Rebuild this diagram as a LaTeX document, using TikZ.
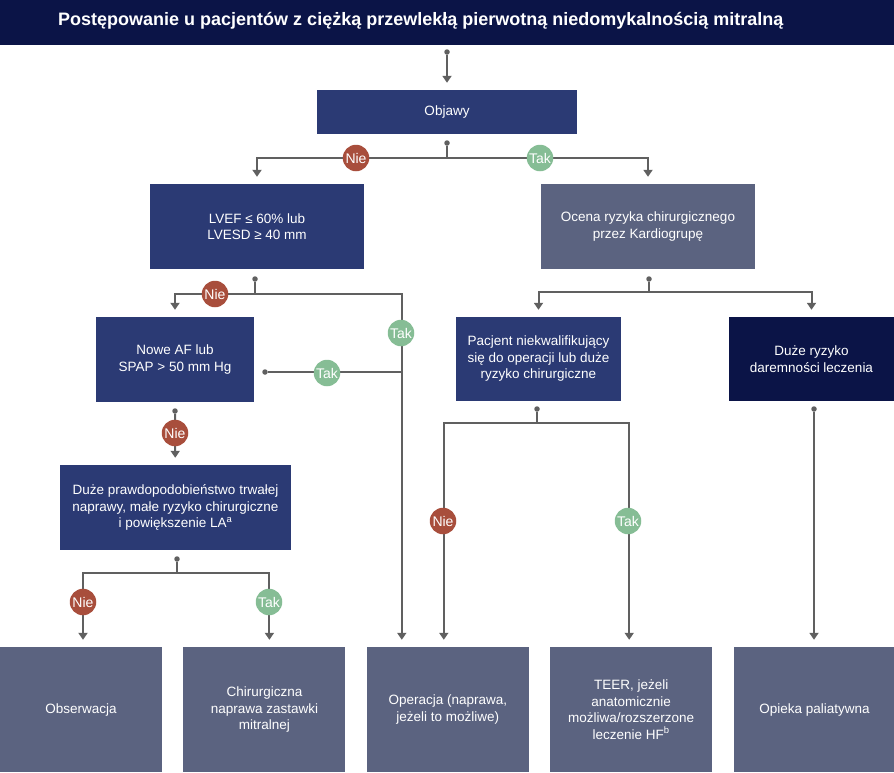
\documentclass[tikz,border=0pt]{standalone}
\usepackage{fontspec}
\setmainfont{Liberation Sans}
\usetikzlibrary{positioning,arrows.meta}
\definecolor{titlenavy}{HTML}{0B1447}
\definecolor{boxblue}{HTML}{2B3A74}
\definecolor{boxgrey}{HTML}{5B6380}
\definecolor{linegrey}{HTML}{606060}
\definecolor{niered}{HTML}{A84E3C}
\definecolor{takgreen}{HTML}{86BD95}

\begin{document}
\begin{tikzpicture}[x=1pt, y=-1pt,
        node distance=21pt,
        box/.style={rectangle, fill=boxblue, text=white, align=center, inner sep=0pt, font=\fontsize{13.5}{16.5}\selectfont},
        greybox/.style={box, fill=boxgrey},
        darkbox/.style={box, fill=titlenavy},
        endbox/.style={greybox, minimum width=162pt, minimum height=125pt},
        dot/.style={circle, fill=linegrey, inner sep=0pt, minimum size=5.5pt},
        line/.style={line width=2pt, draw=linegrey},
        arrow/.style={line, -{Triangle[width=9pt,length=7pt]}, shorten >=7pt},
        nie/.style={circle, fill=niered, text=white, inner sep=0pt, minimum size=26.5pt, font=\fontsize{14}{14}\selectfont},
        tak/.style={nie, fill=takgreen}
    ]
        \useasboundingbox (0,0) rectangle (894,772);
        \fill[titlenavy] (0,0) rectangle (894,45);
        \node[anchor=west, inner sep=0pt, text=white, font=\fontsize{18}{18}\selectfont\bfseries] (title) at (58,21) {Postępowanie u pacjentów z ciężką przewlekłą pierwotną niedomykalnością mitralną};

        \node[box, minimum width=260pt, minimum height=44pt] (objawy) at (447,112) {Objawy};
        \node[box, minimum width=214pt, minimum height=85pt] (lvef) at (257,226.5) {LVEF ≤ 60\% lub\\LVESD ≥ 40 mm};
        \node[greybox, minimum width=214pt, minimum height=85pt] (ocena) at (648,226.5) {Ocena ryzyka chirurgicznego\\przez Kardiogrupę};
        \node[box, minimum width=158pt, minimum height=85pt] (nowe) at (175,359.5) {Nowe AF lub\\SPAP > 50 mm Hg};
        \node[box, minimum width=165pt, minimum height=84pt] (pacjent) at (538.5,359) {Pacjent niekwalifikujący\\się do operacji lub duże\\ryzyko chirurgiczne};
        \node[darkbox, minimum width=165pt, minimum height=84pt] (daremnosc) at (811.5,359) {Duże ryzyko\\daremności leczenia};
        \node[box, minimum width=231pt, minimum height=85pt] (trwala) at (175.5,507.5) {Duże prawdopodobieństwo trwałej\\naprawy, małe ryzyko chirurgiczne\\i powiększenie LA\textsuperscript{a}};

        \node[endbox] (obserwacja) at (81,709.5) {Obserwacja};
        \node[endbox, right=of obserwacja] (chirurgia) {Chirurgiczna\\naprawa zastawki\\mitralnej};
        \node[endbox, right=of chirurgia] (operacja) {Operacja (naprawa,\\jeżeli to możliwe)};
        \node[endbox, right=of operacja] (teer) {TEER, jeżeli\\anatomicznie\\możliwa/rozszerzone\\leczenie HF\textsuperscript{b}};
        \node[endbox, right=of teer] (paliatywna) {Opieka paliatywna};

        \node[dot] (start) at (447,52) {};
        \node[dot] (d1) at (447,143) {};
        \node[dot] (d2) at (255,279) {};
        \node[dot] (d3) at (649,279) {};
        \node[dot] (d4) at (265,372) {};
        \node[dot] (d5) at (175,411) {};
        \node[dot] (d6) at (537,409) {};
        \node[dot] (d7) at (814,409) {};
        \node[dot] (d8) at (177,559) {};
        \coordinate (j1) at (447,158);
        \coordinate (j2) at (255,294);
        \coordinate (j3) at (649,292);
        \coordinate (j4) at (401,372);
        \coordinate (j6) at (537,423);
        \coordinate (j8) at (177,573);

        \draw[arrow] (start) -- (objawy);
        \draw[line] (d1) -- (j1);
        \draw[arrow] (j1) -| (lvef);
        \draw[arrow] (j1) -| (ocena);
        \draw[line] (d2) -- (j2);
        \draw[arrow] (j2) -| (nowe);
        \draw[arrow] (j2) -| ([xshift=-46pt]operacja.north);
        \draw[line] (d4) -- (j4);
        \draw[arrow] (d5) -- (trwala);
        \draw[line] (d8) -- (j8);
        \draw[arrow] (j8) -| ([xshift=2pt]obserwacja.north);
        \draw[arrow] (j8) -| ([xshift=5pt]chirurgia.north);
        \draw[line] (d3) -- (j3);
        \draw[arrow] (j3) -| (pacjent);
        \draw[arrow] (j3) -| (daremnosc);
        \draw[line] (d6) -- (j6);
        \draw[arrow] (j6) -| ([xshift=-4pt]operacja.north);
        \draw[arrow] (j6) -| ([xshift=-2pt]teer.north);
        \draw[arrow] (d7) -- (d7 |- paliatywna.north);

        \node[nie] (nie1) at (356,158) {Nie};
        \node[tak] (tak1) at (540,158) {Tak};
        \node[nie] (nie2) at (215,294) {Nie};
        \node[tak] (tak2) at (401,333) {Tak};
        \node[tak] (tak3) at (327,373) {Tak};
        \node[nie] (nie3) at (175,433) {Nie};
        \node[nie] (nie4) at (83,602) {Nie};
        \node[tak] (tak4) at (269,602) {Tak};
        \node[nie] (nie5) at (443,521) {Nie};
        \node[tak] (tak5) at (628,521) {Tak};
    \end{tikzpicture}
\end{document}
